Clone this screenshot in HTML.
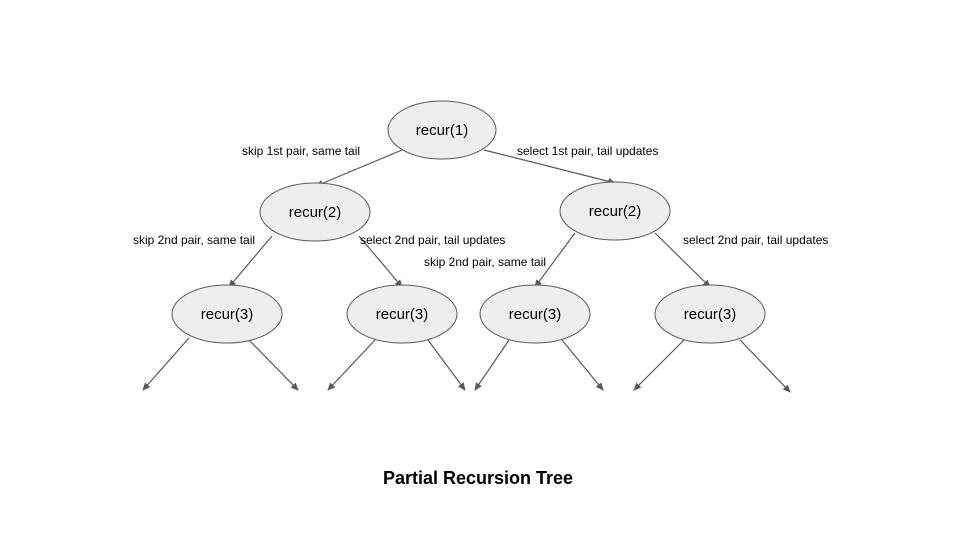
<!DOCTYPE html>
<html><head><meta charset="utf-8"><style>body{margin:0;background:#fff}svg{display:block}</style></head><body>
<svg width="960" height="540" viewBox="0 0 960 540" xmlns="http://www.w3.org/2000/svg" font-family="Liberation Sans, Arial, sans-serif">
<defs><marker id="a" markerWidth="8" markerHeight="8" refX="7" refY="4" orient="auto" markerUnits="userSpaceOnUse"><path d="M0,0.5 L8,4 L0,7.5 Z" fill="#595959"/></marker></defs>
<rect width="960" height="540" fill="#fff"/>
<g stroke="#595959" stroke-width="1.2" fill="none" marker-end="url(#a)">
<line x1="402" y1="150" x2="316" y2="186"/>
<line x1="484" y1="150" x2="615" y2="183"/>
<line x1="272" y1="236" x2="229" y2="287"/>
<line x1="359" y1="236" x2="402" y2="287"/>
<line x1="575" y1="233" x2="535" y2="287"/>
<line x1="655" y1="233" x2="710" y2="287"/>
<line x1="189" y1="338" x2="143" y2="390"/>
<line x1="249" y1="340" x2="298" y2="390"/>
<line x1="375" y1="340" x2="328" y2="390"/>
<line x1="428" y1="340" x2="465" y2="390"/>
<line x1="509" y1="340" x2="475" y2="390"/>
<line x1="562" y1="340" x2="603" y2="390"/>
<line x1="684" y1="340" x2="634" y2="390"/>
<line x1="740" y1="340" x2="790" y2="392"/>
</g>
<g fill="#eeeeee" stroke="#595959" stroke-width="1">
<ellipse cx="442" cy="130" rx="54" ry="29"/>
<ellipse cx="315" cy="212" rx="55" ry="29"/>
<ellipse cx="615" cy="211" rx="55" ry="29"/>
<ellipse cx="227" cy="314" rx="55" ry="29"/>
<ellipse cx="402" cy="314" rx="55" ry="29"/>
<ellipse cx="535" cy="314" rx="55" ry="29"/>
<ellipse cx="710" cy="314" rx="55" ry="29"/>
</g>
<g font-size="15" fill="#000" text-anchor="middle">
<text x="442" y="135">recur(1)</text>
<text x="315" y="217">recur(2)</text>
<text x="615" y="216">recur(2)</text>
<text x="227" y="319">recur(3)</text>
<text x="402" y="319">recur(3)</text>
<text x="535" y="319">recur(3)</text>
<text x="710" y="319">recur(3)</text>
</g>
<g font-size="12" fill="#000">
<text x="242" y="155">skip 1st pair, same tail</text>
<text x="517" y="155">select 1st pair, tail updates</text>
<text x="133" y="244">skip 2nd pair, same tail</text>
<text x="360" y="244">select 2nd pair, tail updates</text>
<text x="424" y="266">skip 2nd pair, same tail</text>
<text x="683" y="244">select 2nd pair, tail updates</text>
</g>
<text x="478" y="484" font-size="18" font-weight="bold" text-anchor="middle">Partial Recursion Tree</text>
</svg>
</body></html>
